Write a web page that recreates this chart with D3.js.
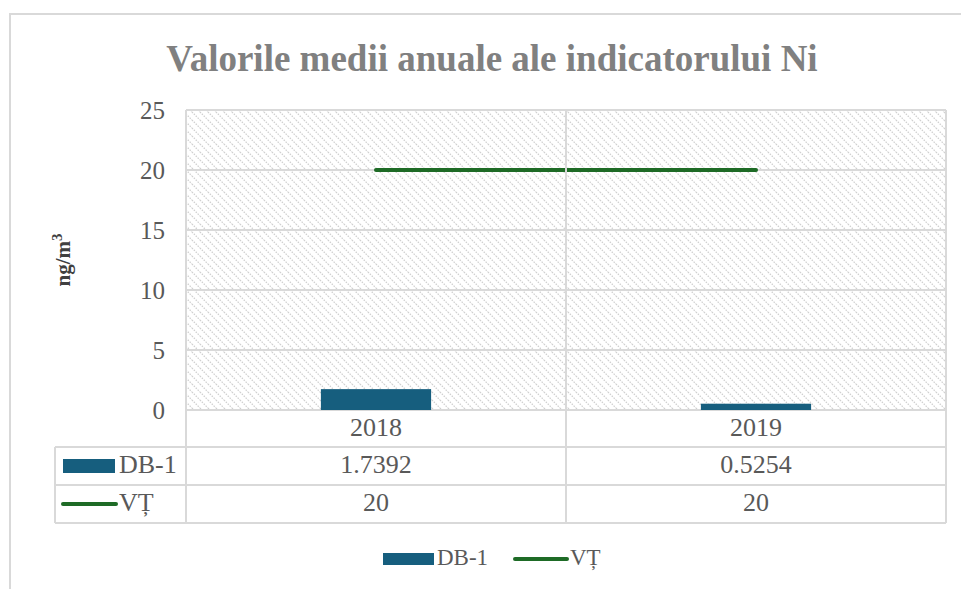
<!DOCTYPE html>
<html>
<head>
<meta charset="utf-8">
<script src="https://cdn.jsdelivr.net/npm/d3@7"></script>
<style>
  body { margin: 0; background: #fff; }
  svg { display: block; font-family: "Liberation Serif", "Times New Roman", serif; }
</style>
</head>
<body>
<svg width="961" height="589"></svg>
<script>
const years = ['2018', '2019'];
const db1 = [1.7392, 0.5254];
const vt = [20, 20];
const yTicks = [0, 5, 10, 15, 20, 25];
const seriesNames = ['DB-1', 'VȚ'];
const dbLabels = ['1.7392', '0.5254'];
const vtLabels = ['20', '20'];

const barColor = '#165e7e';
const lineColor = '#1e6b26';
const gridColor = '#d9d9d9';
const textColor = '#595959';

const svg = d3.select('svg');

// outer chart border (only top and left visible in the crop)
svg.append('path')
  .attr('d', 'M10,600 L10,14 L970,14')
  .attr('fill', 'none')
  .attr('stroke', gridColor)
  .attr('stroke-width', 2);

// hatch pattern for plot background
const defs = svg.append('defs');
const pat = defs.append('pattern')
  .attr('id', 'hatch')
  .attr('patternUnits', 'userSpaceOnUse')
  .attr('width', 8).attr('height', 8);
pat.append('path')
  .attr('d', 'M-2,-2 L10,10 M-2,6 L2,10 M6,-2 L10,2')
  .attr('stroke', '#d0d0d0')
  .attr('stroke-width', 1.3)
  .attr('stroke-dasharray', '1.5,1.2');

svg.append('text')
  .attr('x', 492).attr('y', 71)
  .attr('text-anchor', 'middle')
  .attr('font-size', 37).attr('font-weight', 'bold')
  .attr('fill', '#808080')
  .text('Valorile medii anuale ale indicatorului Ni');

const x = d3.scaleBand().domain(years).range([186, 946]);
const y = d3.scaleLinear().domain([0, 25]).range([410, 110]);

svg.append('rect')
  .attr('x', 186).attr('y', 110)
  .attr('width', 760).attr('height', 300)
  .attr('fill', 'url(#hatch)');

// horizontal gridlines
svg.selectAll('.grid')
  .data(yTicks)
  .enter()
  .append('line')
  .attr('x1', 186).attr('x2', 946)
  .attr('y1', d => y(d)).attr('y2', d => y(d))
  .attr('stroke', gridColor).attr('stroke-width', 2);

// y axis
const yAxis = svg.append('g')
  .attr('transform', 'translate(186,0)')
  .call(d3.axisLeft(y).tickValues(yTicks).tickSize(0).tickPadding(21));
yAxis.select('.domain').remove();
yAxis.selectAll('text')
  .attr('font-family', '"Liberation Serif", serif')
  .attr('font-size', 25)
  .attr('fill', textColor);

svg.append('text')
  .attr('transform', 'translate(70,260) rotate(-90)')
  .attr('text-anchor', 'middle')
  .attr('font-size', 21).attr('font-weight', 'bold')
  .attr('fill', '#404040')
  .html('ng/m<tspan dy="-8" font-size="15">3</tspan>');

// bars
const bw = x.bandwidth() * 0.29;
svg.selectAll('.bar')
  .data(db1)
  .enter()
  .append('rect')
  .attr('x', (d, i) => x(years[i]) + x.bandwidth() / 2 - bw / 2)
  .attr('width', bw)
  .attr('y', d => y(d))
  .attr('height', d => y(0) - y(d))
  .attr('fill', barColor);

// VT line
const line = d3.line()
  .x((d, i) => x(years[i]) + x.bandwidth() / 2)
  .y(d => y(d));
svg.append('path')
  .datum(vt)
  .attr('d', line)
  .attr('fill', 'none')
  .attr('stroke', lineColor)
  .attr('stroke-width', 4)
  .attr('stroke-linecap', 'round');

// data table
const rowY = [410, 447, 485, 523];
const tbl = svg.append('g')
  .attr('stroke', gridColor).attr('stroke-width', 2).attr('fill', 'none');
[186, 566, 946].forEach(v => tbl.append('line').attr('x1', v).attr('x2', v).attr('y1', 110).attr('y2', 523));
tbl.append('line').attr('x1', 55).attr('x2', 55).attr('y1', 447).attr('y2', 523);
[447, 485, 523].forEach(v => tbl.append('line').attr('x1', 55).attr('x2', 946).attr('y1', v).attr('y2', v));

const cx = d => x(d) + x.bandwidth() / 2;
svg.selectAll('.cat')
  .data(years)
  .enter()
  .append('text')
  .attr('x', cx).attr('y', 430)
  .attr('dominant-baseline', 'middle')
  .attr('text-anchor', 'middle')
  .attr('font-size', 26).attr('fill', textColor)
  .text(d => d);

[dbLabels, vtLabels].forEach((labels, r) => {
  svg.selectAll('.row' + r)
    .data(labels)
    .enter()
    .append('text')
    .attr('x', (d, i) => cx(years[i]))
    .attr('y', (rowY[r + 1] + rowY[r + 2]) / 2 + 1)
    .attr('dominant-baseline', 'middle')
    .attr('text-anchor', 'middle')
    .attr('font-size', 26).attr('fill', textColor)
    .text(d => d);
});

// table legend keys
svg.append('rect').attr('x', 63).attr('y', 459).attr('width', 52).attr('height', 14).attr('fill', barColor);
svg.append('text').attr('x', 119).attr('y', 467).attr('dominant-baseline', 'middle')
  .attr('font-size', 26).attr('fill', textColor).text(seriesNames[0]);
svg.append('line').attr('x1', 63).attr('x2', 116).attr('y1', 504).attr('y2', 504)
  .attr('stroke', lineColor).attr('stroke-width', 4).attr('stroke-linecap', 'round');
svg.append('text').attr('x', 119).attr('y', 505).attr('dominant-baseline', 'middle')
  .attr('font-size', 26).attr('fill', textColor).text(seriesNames[1]);

// bottom legend
svg.append('rect').attr('x', 383).attr('y', 553).attr('width', 51).attr('height', 12).attr('fill', barColor);
svg.append('text').attr('x', 437).attr('y', 560).attr('dominant-baseline', 'middle')
  .attr('font-size', 23).attr('fill', textColor).text(seriesNames[0]);
svg.append('line').attr('x1', 515).attr('x2', 567).attr('y1', 559).attr('y2', 559)
  .attr('stroke', lineColor).attr('stroke-width', 4).attr('stroke-linecap', 'round');
svg.append('text').attr('x', 570).attr('y', 560).attr('dominant-baseline', 'middle')
  .attr('font-size', 23).attr('fill', textColor).text(seriesNames[1]);
</script>
</body>
</html>
